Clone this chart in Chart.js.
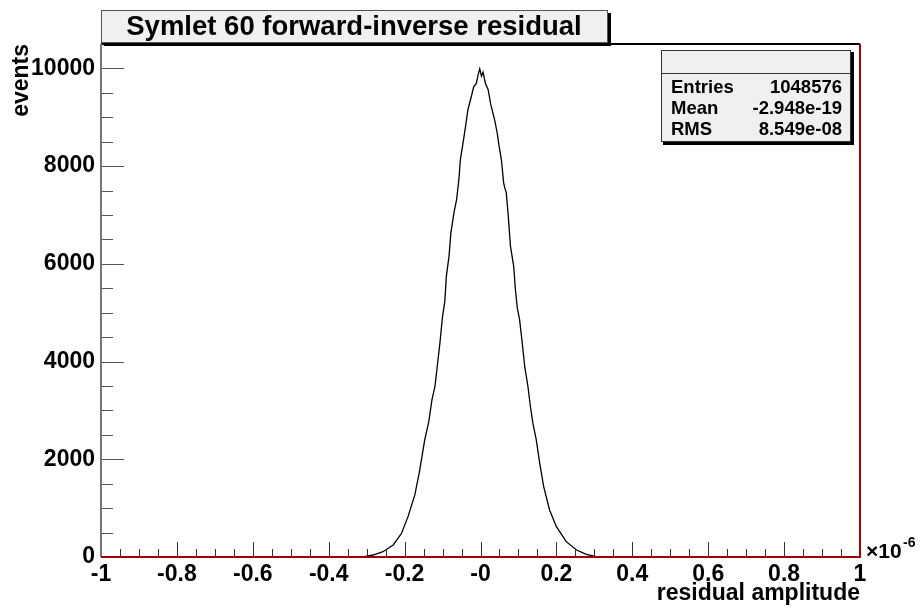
<!DOCTYPE html>
<html>
<head>
<meta charset="utf-8">
<script src="https://cdn.jsdelivr.net/npm/chart.js@4.4.1/dist/chart.umd.min.js"></script>
<style>
  html, body { margin: 0; padding: 0; background: #fff; }
  canvas { display: block; }
</style>
</head>
<body>
<canvas id="histo" width="921" height="614"></canvas>
<script>
const residuals = [
    -0.310, -0.283, -0.257, -0.230, -0.208, -0.191, -0.173, -0.160, -0.147, -0.136,
    -0.128, -0.120, -0.114, -0.107, -0.100, -0.094, -0.090, -0.083, -0.078, -0.070,
    -0.063, -0.057, -0.053, -0.046, -0.040, -0.033, -0.024, -0.018, -0.011, -0.006,
    -0.002, 0.0025, 0.0067, 0.013, 0.020, 0.027, 0.037, 0.044, 0.049, 0.055,
    0.061, 0.064, 0.068, 0.0725, 0.079, 0.0875, 0.092, 0.097, 0.103, 0.110,
    0.1165, 0.125, 0.1315, 0.138, 0.147, 0.156, 0.1665, 0.182, 0.200, 0.226,
    0.253, 0.279, 0.305, 0.315
];
const events = [
    0, 41, 109, 246, 486, 826, 1270, 1783, 2398, 2780,
    3217, 3490, 3900, 4379, 4924, 5232, 5744, 6154, 6633, 7043,
    7316, 7725, 8135, 8477, 8785, 9160, 9430, 9625, 9693, 9877,
    9990, 9842, 9924, 9693, 9570, 9262, 8955, 8682, 8408, 8135,
    7658, 7555, 7453, 7043, 6359, 5949, 5471, 5096, 4857, 4379,
    3900, 3490, 3080, 2740, 2398, 1920, 1441, 963, 621, 314,
    143, 55, 5, 0
];
const xTicks = [-1, -0.8, -0.6, -0.4, -0.2, 0, 0.2, 0.4, 0.6, 0.8, 1];
const yTicks = [0, 2000, 4000, 6000, 8000, 10000];
const statLabels = ['Entries', 'Mean', 'RMS'];
const statValues = ['1048576', '-2.948e-19', '8.549e-08'];
const titleText = 'Symlet 60 forward-inverse residual';

const FONT = '"Liberation Sans", Arial, Helvetica, sans-serif';

const rootStyle = {
    id: 'rootStyle',
    beforeDraw(chart) {
        const ctx = chart.ctx;
        ctx.save();
        // title pave with shadow
        ctx.fillStyle = '#000';
        ctx.fillRect(104, 13, 507, 33);
        ctx.fillStyle = '#f0f0f0';
        ctx.fillRect(101, 10, 507, 33);
        ctx.strokeStyle = '#555';
        ctx.lineWidth = 1;
        ctx.strokeRect(101.5, 10.5, 506, 32);
        ctx.fillStyle = '#000';
        ctx.font = 'bold 27.5px ' + FONT;
        ctx.textAlign = 'center';
        ctx.textBaseline = 'middle';
        ctx.fillText(titleText, 354, 27);
        ctx.restore();
    },
    afterDatasetsDraw(chart) {
        const { ctx, chartArea: a, scales: { x, y } } = chart;
        ctx.save();
        ctx.lineWidth = 1;

        // x ticks, pointing into the frame
        ctx.strokeStyle = '#333';
        for (let i = 0; i <= 40; i++) {
            const v = -1 + i * 0.05;
            const px = Math.round(x.getPixelForValue(v)) + 0.5;
            const len = i % 4 === 0 ? 15 : 8;
            ctx.beginPath();
            ctx.moveTo(px, a.bottom);
            ctx.lineTo(px, a.bottom - len);
            ctx.stroke();
        }
        // y ticks
        ctx.strokeStyle = '#555';
        for (let v = 0; v <= 10500; v += 500) {
            const py = Math.round(y.getPixelForValue(v)) + 0.5;
            const len = v % 2000 === 0 ? 23 : 12;
            ctx.beginPath();
            ctx.moveTo(a.left, py);
            ctx.lineTo(a.left + len, py);
            ctx.stroke();
        }

        // frame
        ctx.lineWidth = 2;
        ctx.strokeStyle = '#000';
        ctx.beginPath();
        ctx.moveTo(a.left, a.top);
        ctx.lineTo(a.right, a.top);
        ctx.stroke();
        ctx.strokeStyle = '#777';
        ctx.beginPath();
        ctx.moveTo(a.left, a.top);
        ctx.lineTo(a.left, a.bottom);
        ctx.stroke();
        ctx.strokeStyle = '#a00000';
        ctx.beginPath();
        ctx.moveTo(a.left, a.bottom);
        ctx.lineTo(a.right, a.bottom);
        ctx.lineTo(a.right, a.top);
        ctx.stroke();

        // stats pave
        ctx.fillStyle = '#000';
        ctx.fillRect(663, 52, 191, 93);
        ctx.fillStyle = '#f0f0f0';
        ctx.fillRect(661, 50, 190, 92);
        ctx.lineWidth = 1;
        ctx.strokeStyle = '#333';
        ctx.strokeRect(661.5, 50.5, 189, 91);
        ctx.beginPath();
        ctx.moveTo(661, 73.5);
        ctx.lineTo(851, 73.5);
        ctx.stroke();
        ctx.fillStyle = '#000';
        ctx.font = 'bold 18.5px ' + FONT;
        ctx.textBaseline = 'middle';
        statLabels.forEach((lab, i) => {
            const ty = 88 + i * 21;
            ctx.textAlign = 'left';
            ctx.fillText(lab, 671, ty);
            ctx.textAlign = 'right';
            ctx.fillText(statValues[i], 842, ty);
        });

        // exponent of the x axis
        ctx.textAlign = 'left';
        ctx.textBaseline = 'alphabetic';
        ctx.font = 'bold 21px ' + FONT;
        ctx.fillText('\u00d710', 866, 558);
        ctx.font = 'bold 14px ' + FONT;
        ctx.fillText('-6', 903, 547);
        ctx.restore();
    }
};

function drawHistogram() {
    const ctx = document.getElementById('histo')?.getContext('2d');
    if (!ctx) {
        console.error('Histogram canvas not found!');
        return;
    }

    const points = residuals.map((r, i) => ({ x: r, y: events[i] }));

    new Chart(ctx, {
        type: 'line',
        data: {
            datasets: [{
                data: points,
                borderColor: '#000',
                borderWidth: 1.3,
                pointRadius: 0,
                tension: 0,
                fill: false
            }]
        },
        options: {
            responsive: false,
            animation: false,
            devicePixelRatio: 1,
            layout: { padding: { top: 44, right: 61, left: 0, bottom: 0 } },
            plugins: {
                legend: { display: false },
                tooltip: { enabled: false }
            },
            scales: {
                x: {
                    type: 'linear',
                    min: -1,
                    max: 1,
                    afterBuildTicks: s => { s.ticks = xTicks.map(v => ({ value: v })); },
                    afterFit: s => { s.height = 57; },
                    grid: { display: false, drawTicks: false },
                    border: { display: false },
                    ticks: {
                        color: '#000',
                        padding: 4,
                        maxRotation: 0,
                        autoSkip: false,
                        font: { family: FONT, size: 23, weight: 'bold' },
                        callback: v => (v === 0 ? '-0' : String(Math.round(v * 10) / 10))
                    },
                    title: {
                        display: true,
                        text: 'residual amplitude',
                        align: 'end',
                        color: '#000',
                        padding: { top: 0, bottom: 7 },
                        font: { family: FONT, size: 23, weight: 'bold' }
                    }
                },
                y: {
                    min: 0,
                    max: 10500,
                    afterBuildTicks: s => { s.ticks = yTicks.map(v => ({ value: v })); },
                    afterFit: s => { s.width = 101; },
                    grid: { display: false, drawTicks: false },
                    border: { display: false },
                    ticks: {
                        color: '#000',
                        padding: 6,
                        autoSkip: false,
                        font: { family: FONT, size: 23, weight: 'bold' },
                        callback: v => String(v)
                    },
                    title: {
                        display: true,
                        text: 'events',
                        align: 'end',
                        color: '#000',
                        padding: { top: 8, bottom: 0 },
                        font: { family: FONT, size: 23, weight: 'bold' }
                    }
                }
            }
        },
        plugins: [rootStyle]
    });
}

window.onload = drawHistogram;
</script>
</body>
</html>
